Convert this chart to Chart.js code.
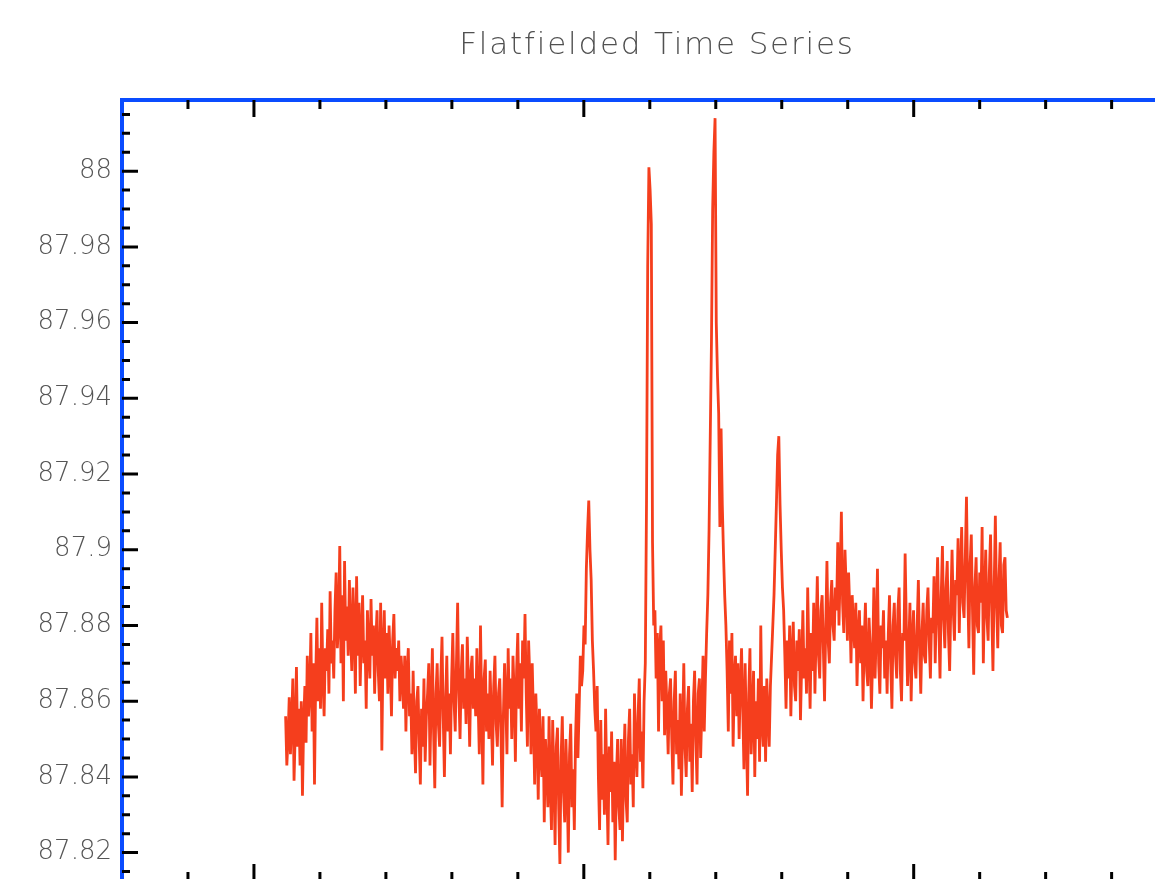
<!DOCTYPE html>
<html>
<head>
<meta charset="utf-8">
<title>Flatfielded Time Series</title>
<script src="https://cdn.jsdelivr.net/npm/chart.js@4.4.1/dist/chart.umd.min.js"></script>
<style>
  html, body { margin: 0; padding: 0; background: #fff; overflow: hidden; }
  #wrap { width: 1155px; height: 879px; overflow: hidden; }
</style>
</head>
<body>
<div id="wrap"><canvas id="seriesChart" width="1200" height="900"></canvas></div>
<script>
var chartTitle = "Flatfielded Time Series";

// sample times (arbitrary units, one minor tick = 1), evenly sampled
var timeStart = 2.48;
var timeEnd = 13.42;

// flux, one row per ~12 px of trace
var flux = [
    87.856, 87.843, 87.850, 87.861, 87.846, 87.855, 87.866, 87.839, 87.852, 87.869,
    87.848, 87.858, 87.843, 87.860, 87.835, 87.854, 87.864, 87.849, 87.872, 87.856,
    87.862, 87.878, 87.852, 87.870, 87.838, 87.866, 87.882, 87.860, 87.874, 87.858,
    87.886, 87.866, 87.856, 87.874, 87.868, 87.879, 87.862, 87.889, 87.870, 87.876,
    87.866, 87.884, 87.894, 87.874, 87.880, 87.901, 87.870, 87.888, 87.860, 87.897,
    87.876, 87.885, 87.872, 87.892, 87.878, 87.868, 87.890, 87.880, 87.862, 87.893,
    87.872, 87.886, 87.864, 87.878, 87.888, 87.870, 87.876, 87.858, 87.884, 87.874,
    87.866, 87.887, 87.872, 87.880, 87.862, 87.876, 87.884, 87.868, 87.860, 87.886,
    87.847, 87.874, 87.884, 87.866, 87.878, 87.862, 87.880, 87.870, 87.856, 87.876,
    87.883, 87.866, 87.874, 87.868, 87.876, 87.860, 87.872, 87.866, 87.858, 87.872,
    87.852, 87.868, 87.874, 87.856, 87.862, 87.846, 87.868, 87.852, 87.841, 87.860,
    87.864, 87.850, 87.838, 87.858, 87.848, 87.866, 87.844, 87.856, 87.862, 87.870,
    87.843, 87.860, 87.874, 87.852, 87.837, 87.862, 87.870, 87.854, 87.848, 87.866,
    87.877, 87.856, 87.840, 87.860, 87.872, 87.852, 87.862, 87.846, 87.866, 87.878,
    87.860, 87.852, 87.870, 87.886, 87.862, 87.850, 87.868, 87.875, 87.858, 87.866,
    87.854, 87.877, 87.864, 87.848, 87.868, 87.872, 87.858, 87.866, 87.856, 87.874,
    87.860, 87.846, 87.880, 87.858, 87.838, 87.866, 87.871, 87.852, 87.862, 87.850,
    87.868, 87.856, 87.843, 87.864, 87.872, 87.854, 87.848, 87.862, 87.866, 87.852,
    87.832, 87.856, 87.870, 87.860, 87.846, 87.874, 87.858, 87.866, 87.850, 87.872,
    87.862, 87.844, 87.868, 87.878, 87.858, 87.870, 87.852, 87.876, 87.866, 87.883,
    87.862, 87.848, 87.876, 87.866, 87.846, 87.870, 87.856, 87.838, 87.862, 87.852,
    87.834, 87.858, 87.846, 87.840, 87.856, 87.828, 87.850, 87.842, 87.832, 87.856,
    87.838, 87.826, 87.855, 87.840, 87.822, 87.848, 87.853, 87.832, 87.817, 87.845,
    87.856, 87.836, 87.828, 87.850, 87.838, 87.820, 87.846, 87.854, 87.832, 87.842,
    87.826, 87.850, 87.862, 87.845, 87.858, 87.872, 87.864, 87.868, 87.880, 87.875,
    87.895, 87.905, 87.913, 87.900, 87.892, 87.876, 87.868, 87.858, 87.852, 87.864,
    87.840, 87.826, 87.855, 87.834, 87.846, 87.830, 87.858, 87.838, 87.822, 87.848,
    87.836, 87.852, 87.828, 87.844, 87.818, 87.840, 87.850, 87.832, 87.826, 87.850,
    87.823, 87.842, 87.854, 87.834, 87.828, 87.850, 87.858, 87.838, 87.846, 87.832,
    87.862, 87.848, 87.840, 87.856, 87.866, 87.844, 87.852, 87.837, 87.860, 87.870,
    87.912, 87.975, 88.001, 87.995, 87.986, 87.902, 87.880, 87.884, 87.866, 87.878,
    87.852, 87.874, 87.880, 87.860, 87.876, 87.851, 87.868, 87.858, 87.846, 87.862,
    87.866, 87.850, 87.838, 87.860, 87.868, 87.846, 87.855, 87.842, 87.862, 87.835,
    87.852, 87.870, 87.848, 87.840, 87.858, 87.864, 87.844, 87.854, 87.836, 87.860,
    87.868, 87.850, 87.838, 87.862, 87.866, 87.845, 87.858, 87.872, 87.852, 87.866,
    87.878, 87.888, 87.905, 87.930, 87.955, 87.990, 88.005, 88.014, 87.960, 87.946,
    87.936, 87.906, 87.932, 87.912, 87.899, 87.888, 87.880, 87.868, 87.852, 87.876,
    87.862, 87.878, 87.848, 87.866, 87.872, 87.856, 87.870, 87.850, 87.864, 87.874,
    87.858, 87.842, 87.870, 87.852, 87.835, 87.862, 87.874, 87.846, 87.856, 87.868,
    87.840, 87.860, 87.850, 87.866, 87.844, 87.880, 87.854, 87.848, 87.864, 87.844,
    87.866, 87.856, 87.848, 87.864, 87.872, 87.880, 87.888, 87.900, 87.912, 87.925,
    87.930, 87.912, 87.900, 87.890, 87.884, 87.872, 87.858, 87.876, 87.866, 87.880,
    87.856, 87.872, 87.881, 87.864, 87.860, 87.876, 87.868, 87.879, 87.855, 87.870,
    87.884, 87.866, 87.874, 87.862, 87.890, 87.872, 87.858, 87.878, 87.868, 87.886,
    87.862, 87.878, 87.893, 87.872, 87.866, 87.884, 87.888, 87.874, 87.860, 87.880,
    87.897, 87.876, 87.870, 87.886, 87.892, 87.880, 87.876, 87.890, 87.884, 87.902,
    87.880, 87.894, 87.910, 87.886, 87.878, 87.900, 87.890, 87.876, 87.894, 87.884,
    87.870, 87.888, 87.880, 87.874, 87.886, 87.864, 87.878, 87.884, 87.870, 87.880,
    87.860, 87.876, 87.886, 87.868, 87.864, 87.882, 87.874, 87.858, 87.872, 87.890,
    87.866, 87.878, 87.895, 87.870, 87.862, 87.880, 87.874, 87.884, 87.866, 87.876,
    87.862, 87.878, 87.888, 87.870, 87.858, 87.880, 87.886, 87.872, 87.866, 87.884,
    87.890, 87.868, 87.860, 87.878, 87.876, 87.899, 87.880, 87.864, 87.874, 87.886,
    87.860, 87.876, 87.884, 87.870, 87.866, 87.880, 87.892, 87.874, 87.862, 87.878,
    87.886, 87.872, 87.870, 87.884, 87.890, 87.876, 87.866, 87.882, 87.878, 87.893,
    87.870, 87.886, 87.898, 87.880, 87.866, 87.888, 87.901, 87.882, 87.874, 87.890,
    87.897, 87.878, 87.868, 87.886, 87.900, 87.884, 87.876, 87.892, 87.888, 87.903,
    87.878, 87.894, 87.906, 87.886, 87.882, 87.898, 87.914, 87.890, 87.874, 87.896,
    87.904, 87.884, 87.867, 87.890, 87.898, 87.880, 87.878, 87.894, 87.886, 87.906,
    87.870, 87.888, 87.900, 87.882, 87.876, 87.894, 87.904, 87.884, 87.868, 87.890,
    87.909, 87.886, 87.874, 87.892, 87.902, 87.880, 87.878, 87.896, 87.898, 87.884,
    87.882
];

var yTicks = [87.82, 87.84, 87.86, 87.88, 87.90, 87.92, 87.94, 87.96, 87.98, 88.00];
var yTickLabels = ["87.82", "87.84", "87.86", "87.88", "87.9", "87.92", "87.94", "87.96", "87.98", "88"];
var xMajorTicks = [2, 7, 12];

var yMin = 87.8125, yMax = 88.0188;
var xMin = 0, xMax = 15.9;

function buildPoints() {
    var step = (timeEnd - timeStart) / (flux.length - 1);
    return flux.map(function (v, i) {
        return { x: timeStart + i * step, y: v };
    });
}

//-------------
//- TICK MARKS (inward, IDL style) -
//-------------
var tickMarksPlugin = {
    id: 'tickMarks',
    afterDraw: function (chart) {
        var ctx = chart.ctx;
        var area = chart.chartArea;
        var xs = chart.scales.x;
        var ys = chart.scales.y;
        ctx.save();
        ctx.strokeStyle = '#000';
        ctx.lineWidth = 3;

        function hTick(px, len) {
            ctx.beginPath();
            ctx.moveTo(area.left, px); ctx.lineTo(area.left + len, px);
            ctx.moveTo(area.right, px); ctx.lineTo(area.right - len, px);
            ctx.stroke();
        }
        function vTick(px, len) {
            ctx.beginPath();
            ctx.moveTo(px, area.top); ctx.lineTo(px, area.top + len);
            ctx.moveTo(px, area.bottom); ctx.lineTo(px, area.bottom - len);
            ctx.stroke();
        }

        // y: minor every 0.005, major every 0.02
        for (var k = 0; k <= 41; k++) {
            var v = 87.815 + k * 0.005;
            if (v > yMax) break;
            var isMajor = yTicks.some(function (t) { return Math.abs(t - v) < 1e-6; });
            hTick(ys.getPixelForValue(v), isMajor ? 16 : 8);
        }
        // x: minor every 1, major every 5
        for (var t = 1; t < xMax; t++) {
            var major = xMajorTicks.indexOf(t) >= 0;
            vTick(xs.getPixelForValue(t), major ? 17 : 9);
        }
        ctx.restore();

        // title, drawn with some letter spacing like the stroke font
        ctx.save();
        ctx.fillStyle = '#505050';
        ctx.font = '200 31px "DejaVu Sans"';
        ctx.letterSpacing = '1.8px';
        ctx.textAlign = 'center';
        ctx.textBaseline = 'alphabetic';
        ctx.fillText(chartTitle, 657, 54);
        ctx.restore();
    }
};

function initSeriesChart() {
    var axisBlue = '#0a4cff';
    var hidden = { display: false };

    var seriesData = {
        datasets: [
            {
                label: 'flux',
                data: buildPoints(),
                borderColor: '#f53e1d',
                borderWidth: 2.8,
                pointRadius: 0,
                tension: 0,
                fill: false
            }
        ]
    };

    var seriesOptions = {
        responsive: false,
        animation: false,
        events: [],
        layout: { padding: { top: 100, left: 0, right: 0, bottom: 0 } },
        plugins: { legend: hidden, tooltip: { enabled: false }, title: hidden },
        scales: {
            x: {
                type: 'linear', position: 'bottom', min: xMin, max: xMax,
                grid: { drawOnChartArea: false, drawTicks: false },
                border: { color: axisBlue, width: 4 },
                ticks: hidden,
                afterFit: function (s) { s.height = 19; }
            },
            xTop: {
                type: 'linear', position: 'top', min: xMin, max: xMax,
                grid: { drawOnChartArea: false, drawTicks: false },
                border: { color: axisBlue, width: 4 },
                ticks: hidden,
                afterFit: function (s) { s.height = 0; }
            },
            y: {
                type: 'linear', position: 'left', min: yMin, max: yMax,
                grid: { drawOnChartArea: false, drawTicks: false },
                border: { color: axisBlue, width: 4 },
                afterBuildTicks: function (s) {
                    s.ticks = yTicks.map(function (v) { return { value: v }; });
                },
                ticks: {
                    padding: 10,
                    color: '#555',
                    font: { family: '"DejaVu Sans"', size: 26, weight: 200 },
                    callback: function (value) {
                        var i = yTicks.findIndex(function (t) { return Math.abs(t - value) < 1e-6; });
                        return i >= 0 ? yTickLabels[i] : '';
                    }
                },
                afterFit: function (s) {
                    s.width = 122;
                    s.paddingTop = 0;
                    s.paddingBottom = 0;
                }
            },
            yRight: {
                type: 'linear', position: 'right', min: yMin, max: yMax,
                grid: { drawOnChartArea: false, drawTicks: false },
                border: { color: axisBlue, width: 4 },
                ticks: hidden,
                afterFit: function (s) { s.width = 29; }
            }
        }
    };

    var canvas = document.getElementById('seriesChart').getContext('2d');
    new Chart(canvas, { type: 'line', data: seriesData, options: seriesOptions, plugins: [tickMarksPlugin] });
}

initSeriesChart();
</script>
</body>
</html>
